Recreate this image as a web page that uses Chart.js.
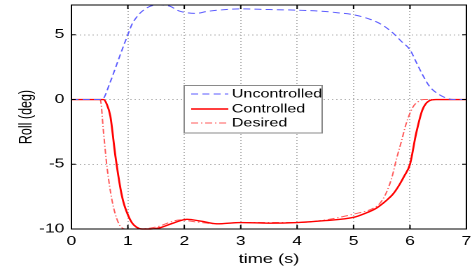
<!DOCTYPE html>
<html lang="en">
<head>
<meta charset="UTF-8" />
<title>Roll response</title>
<script src="https://cdn.jsdelivr.net/npm/chart.js"></script>
<style>
  html, body { margin: 0; padding: 0; background: #fff; overflow: hidden; }
  #wrap { width: 472px; height: 266px; }
  /* the source figure is stretched sideways, so the canvas is too */
  #roll { transform-origin: 0 0; transform: scaleX(1.4006); }
</style>
</head>
<body>
<div id="wrap"><canvas id="roll" width="337" height="266"></canvas></div>
<script>
const xTicks = [0, 1, 2, 3, 4, 5, 6, 7];
const yTicks = [-10, -5, 0, 5];
const seriesNames = ['Uncontrolled', 'Controlled', 'Desired'];

// time (s) and roll (deg)
const tUncontrolled = [0, 0.54, 0.69, 0.81, 0.93, 1.0, 1.07, 1.19, 1.31, 1.43, 1.58, 1.75, 1.9, 2.05, 2.2, 2.4, 2.6, 3.0, 3.5, 4.0, 4.5, 4.76, 5.0, 5.35, 5.53, 5.7, 5.85, 6.0, 6.12, 6.24, 6.35, 6.5, 6.65, 6.77, 7.0];
const rollUncontrolled = [0, 0, 1.38, 2.8, 4.22, 5.0, 5.78, 6.55, 7.0, 7.25, 7.3, 7.2, 6.85, 6.7, 6.65, 6.8, 6.9, 7.0, 6.95, 6.9, 6.8, 6.68, 6.55, 6.1, 5.7, 5.13, 4.48, 3.84, 2.8, 1.77, 0.99, 0.43, 0.1, 0, 0];

const tControlled = [0, 0.57, 0.62, 0.69, 0.78, 0.87, 0.92, 1.0, 1.07, 1.15, 1.25, 1.4, 1.57, 1.8, 2.05, 2.3, 2.58, 3.0, 3.5, 4.0, 4.5, 5.0, 5.2, 5.4, 5.58, 5.7, 5.81, 5.9, 6.0, 6.11, 6.22, 6.34, 6.46, 7.0];
const rollControlled = [0, 0, -0.3, -1.3, -4.4, -6.9, -7.9, -8.9, -9.5, -9.85, -10, -10, -9.9, -9.55, -9.25, -9.4, -9.6, -9.5, -9.55, -9.5, -9.35, -9.1, -8.8, -8.4, -7.8, -7.3, -6.6, -5.9, -5.0, -2.6, -0.8, -0.1, 0, 0];

const tDesired = [0, 0.51, 0.57, 0.63, 0.72, 0.83, 0.95, 1.2, 1.5, 1.93, 2.2, 2.6, 3.0, 4.0, 4.5, 5.1, 5.3, 5.47, 5.58, 5.68, 5.76, 5.85, 5.93, 6.05, 6.15, 6.25, 7.0];
const rollDesired = [0, 0, -2.6, -5.2, -7.8, -9.5, -10, -10, -9.85, -9.3, -9.45, -9.6, -9.5, -9.5, -9.3, -8.75, -8.5, -8.0, -7.2, -6.0, -4.6, -3.2, -1.9, -0.6, -0.15, 0, 0];

function toPoints(t, v) {
  return t.map((x, i) => ({ x: x, y: v[i] }));
}

Chart.defaults.font.family = "'Liberation Sans', Arial, sans-serif";
Chart.defaults.color = '#000';

// box round the axes, inward ticks, and the legend inside the plot
const framePlugin = {
  id: 'frame',
  afterDatasetsDraw(chart) {
    const { ctx, chartArea: a, scales } = chart;
    ctx.save();
    ctx.strokeStyle = '#000';
    ctx.lineWidth = 1;
    ctx.setLineDash([]);
    ctx.strokeRect(a.left, a.top, a.right - a.left, a.bottom - a.top);
    ctx.beginPath();
    xTicks.forEach(v => {
      const px = scales.x.getPixelForValue(v);
      ctx.moveTo(px, a.bottom); ctx.lineTo(px, a.bottom - 4);
      ctx.moveTo(px, a.top); ctx.lineTo(px, a.top + 4);
    });
    yTicks.forEach(v => {
      const py = scales.y.getPixelForValue(v);
      ctx.moveTo(a.left, py); ctx.lineTo(a.left + 3, py);
      ctx.moveTo(a.right, py); ctx.lineTo(a.right - 3, py);
    });
    ctx.stroke();

    // legend
    const bx = 131.5, by = 85.5, bw = 98.5, bh = 47.5;
    ctx.fillStyle = '#fff';
    ctx.fillRect(bx, by, bw, bh);
    ctx.strokeStyle = '#8a8a8a';
    ctx.strokeRect(bx, by, bw, bh);
    ctx.font = "11.5px 'Liberation Sans', Arial, sans-serif";
    ctx.textBaseline = 'middle';
    ctx.fillStyle = '#000';
    const rows = [94, 109, 123];
    chart.data.datasets.forEach((ds, i) => {
      ctx.strokeStyle = ds.borderColor;
      ctx.lineWidth = ds.borderWidth;
      ctx.setLineDash(ds.borderDash || []);
      ctx.beginPath();
      ctx.moveTo(136.5, rows[i]);
      ctx.lineTo(163, rows[i]);
      ctx.stroke();
      ctx.setLineDash([]);
      ctx.fillText(ds.label, 165.5, rows[i] + 0.5);
    });
    ctx.restore();
  }
};

new Chart(document.getElementById('roll'), {
  type: 'line',
  data: {
    datasets: [
      {
        label: seriesNames[0],
        data: toPoints(tUncontrolled, rollUncontrolled),
        borderColor: '#5c5cff',
        borderWidth: 1,
        borderDash: [5, 3]
      },
      {
        label: seriesNames[1],
        data: toPoints(tControlled, rollControlled),
        borderColor: '#ff0000',
        borderWidth: 1.4
      },
      {
        label: seriesNames[2],
        data: toPoints(tDesired, rollDesired),
        borderColor: '#ff5a5a',
        borderWidth: 1,
        borderDash: [5, 2, 1, 2]
      }
    ]
  },
  options: {
    responsive: false,
    animation: false,
    devicePixelRatio: 2,
    layout: { padding: { top: 5, right: 4, left: 0, bottom: 0 } },
    elements: {
      point: { radius: 0 },
      line: { cubicInterpolationMode: 'monotone', fill: false }
    },
    datasets: { line: { clip: false } },
    plugins: {
      legend: { display: false },
      tooltip: { enabled: false }
    },
    scales: {
      x: {
        type: 'linear',
        min: 0,
        max: 7,
        afterBuildTicks: s => { s.ticks = xTicks.map(v => ({ value: v })); },
        afterFit: s => { s.height = 37; s.paddingLeft = 0; s.paddingRight = 0; },
        grid: { color: '#b4b4b4', drawTicks: false },
        border: { display: false, dash: [1, 2] },
        ticks: { padding: 5, font: { size: 12.5 } },
        title: {
          display: true,
          text: 'time (s)',
          font: { size: 13, lineHeight: 1 },
          padding: { top: 0, bottom: 0 }
        }
      },
      y: {
        min: -10,
        max: 7.3,
        afterBuildTicks: s => { s.ticks = yTicks.map(v => ({ value: v })); },
        afterFit: s => { s.width = 51; s.paddingTop = 0; s.paddingBottom = 0; },
        grid: { color: '#b4b4b4', drawTicks: false },
        border: { display: false, dash: [1, 2] },
        ticks: { padding: 5, font: { size: 12.5 } },
        title: {
          display: true,
          text: 'Roll (deg)',
          font: { size: 12.5 },
          padding: { top: 11.5, bottom: 0 }
        }
      }
    }
  },
  plugins: [framePlugin]
});
</script>
</body>
</html>
